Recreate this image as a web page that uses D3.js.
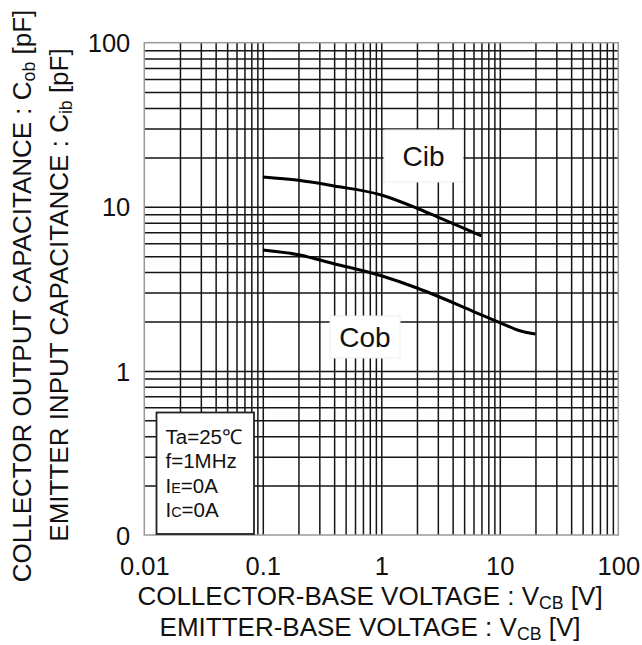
<!DOCTYPE html>
<html>
<head>
<meta charset="utf-8">
<script src="https://cdn.jsdelivr.net/npm/d3@7"></script>
<style>
  body { margin: 0; background: #fff; }
  svg text { font-family: "Liberation Sans", Arial, sans-serif; fill: #111; }
</style>
</head>
<body>
<div id="chart"></div>
<script>
// Data
var vcbCib = [0.1, 0.2, 0.4, 1, 2, 3, 5, 7];
var cib    = [15.2, 14.5, 13.4, 11.8, 9.8, 8.65, 7.4, 6.65];
var vcbCob = [0.1, 0.2, 0.4, 1, 2, 3, 6, 10, 15, 20];
var cob    = [5.45, 5.1, 4.5, 3.8, 3.2, 2.85, 2.3, 1.97, 1.75, 1.68];

var xTicks = [0.01, 0.1, 1, 10, 100];
var yTicks = [0.1, 1, 10, 100];
var yTickLabels = ["0", "1", "10", "100"];

// Layout
var width = 642, height = 645;
var margin = { left: 144.3, right: 23.7, top: 42.7, bottom: 110 };
var plotW = width - margin.left - margin.right;
var plotH = height - margin.top - margin.bottom;

var x = d3.scaleLog().domain([0.01, 100]).range([0, plotW]);
var y = d3.scaleLog().domain([0.1, 100]).range([plotH, 0]);

// minor grid values 1..9 per decade, inner lines only
function gridValues(lo, hi) {
  var out = [];
  for (var d = lo; d < hi; d *= 10) {
    for (var k = 1; k < 10; k++) {
      var v = +(d * k).toPrecision(3);
      if (v > lo && v < hi) out.push(v);
    }
  }
  return out;
}

var svg = d3.select('#chart')
            .append('svg')
            .attr('width', width)
            .attr('height', height);

var g = svg.append('g')
           .attr('transform', 'translate(' + margin.left + ',' + margin.top + ')');

// Grid
g.append('g')
  .attr('class', 'grid-x')
  .attr('transform', 'translate(0,' + plotH + ')')
  .call(d3.axisBottom(x).tickValues(gridValues(0.01, 100)).tickSize(-plotH).tickFormat(''))
  .call(function(s) { s.select('.domain').remove(); });

g.append('g')
  .attr('class', 'grid-y')
  .call(d3.axisLeft(y).tickValues(gridValues(0.1, 100)).tickSize(-plotW).tickFormat(''))
  .call(function(s) { s.select('.domain').remove(); });

g.selectAll('.grid-x line, .grid-y line')
  .attr('stroke', '#151515')
  .attr('stroke-width', 1.5);

// Frame
g.append('rect')
  .attr('width', plotW)
  .attr('height', plotH)
  .attr('fill', 'none')
  .attr('stroke', '#999')
  .attr('stroke-width', 1.5);

// Curves
var line = d3.line()
  .x(function(d) { return x(d[0]); })
  .y(function(d) { return y(d[1]); })
  .curve(d3.curveMonotoneX);

[[vcbCib, cib], [vcbCob, cob]].forEach(function(s) {
  g.append('path')
    .datum(d3.zip(s[0], s[1]))
    .attr('fill', 'none')
    .attr('stroke', '#000')
    .attr('stroke-width', 3)
    .attr('d', line);
});

// Curve labels with white boxes
function labelBox(bx, by, bw, bh, txt) {
  g.append('rect')
    .attr('x', bx - margin.left).attr('y', by - margin.top)
    .attr('width', bw).attr('height', bh)
    .attr('fill', '#fff')
    .attr('stroke', '#eee');
  g.append('text')
    .attr('x', bx - margin.left + bw / 2)
    .attr('y', by - margin.top + bh / 2 + 10)
    .attr('text-anchor', 'middle')
    .attr('font-size', 28)
    .text(txt);
}
labelBox(384, 130, 79, 52, 'Cib');
labelBox(330, 316, 70, 42, 'Cob');

// Conditions box
var cond = g.append('g')
  .attr('transform', 'translate(' + (156.5 - margin.left) + ',' + (412.5 - margin.top) + ')');
cond.append('rect')
  .attr('width', 97.5)
  .attr('height', 121.5)
  .attr('fill', '#fff')
  .attr('stroke', '#222')
  .attr('stroke-width', 1.8);

var condLines = [
  [['T', 1], ['a', 1], ['=25\u2103', 1]],
  [['f=1MHz', 1]],
  [['I', 1], ['E', 0.7], ['=0A', 1]],
  [['I', 1], ['C', 0.7], ['=0A', 1]]
];
condLines.forEach(function(parts, i) {
  var t = cond.append('text')
    .attr('x', 9)
    .attr('y', 31 + i * 24.5)
    .attr('font-size', 20.5);
  parts.forEach(function(p) {
    t.append('tspan').attr('font-size', 20.5 * p[1]).text(p[0]);
  });
});

// Tick labels
var xAxis = g.append('g')
  .attr('transform', 'translate(0,' + plotH + ')')
  .call(d3.axisBottom(x).tickValues(xTicks).tickSize(0).tickPadding(0)
        .tickFormat(function(d) { return String(d); }));
xAxis.select('.domain').remove();
xAxis.selectAll('text')
  .attr('font-size', 25.5)
  .attr('dy', null)
  .attr('y', 40);

var yAxis = g.append('g')
  .call(d3.axisLeft(y).tickValues(yTicks).tickSize(0).tickPadding(0)
        .tickFormat(function(d, i) { return yTickLabels[i]; }));
yAxis.select('.domain').remove();
yAxis.selectAll('text')
  .attr('font-size', 25.5)
  .attr('x', -14)
  .attr('dy', '0.36em');

// Axis titles
function titleWithSub(sel, parts, fs) {
  parts.forEach(function(p) {
    var ts = sel.append('tspan').text(p[0]);
    if (p[1]) ts.attr('font-size', fs * 0.68).attr('dy', 3.5);
    else if (p[2]) ts.attr('dy', -3.5);
  });
}

var xt1 = svg.append('text')
  .attr('x', 370).attr('y', 605)
  .attr('text-anchor', 'middle')
  .attr('font-size', 26);
titleWithSub(xt1, [['COLLECTOR-BASE VOLTAGE : V'], ['CB', true], [' [V]', false, true]], 26);

var xt2 = svg.append('text')
  .attr('x', 370).attr('y', 636)
  .attr('text-anchor', 'middle')
  .attr('font-size', 26);
titleWithSub(xt2, [['EMITTER-BASE VOLTAGE : V'], ['CB', true], [' [V]', false, true]], 26);

var yt1 = svg.append('text')
  .attr('transform', 'translate(31,296) rotate(-90)')
  .attr('text-anchor', 'middle')
  .attr('font-size', 26);
titleWithSub(yt1, [['COLLECTOR OUTPUT CAPACITANCE : C'], ['ob', true], [' [pF]', false, true]], 26);

var yt2 = svg.append('text')
  .attr('transform', 'translate(68,295) rotate(-90)')
  .attr('text-anchor', 'middle')
  .attr('font-size', 26);
titleWithSub(yt2, [['EMITTER INPUT CAPACITANCE : C'], ['ib', true], [' [pF]', false, true]], 26);
</script>
</body>
</html>
